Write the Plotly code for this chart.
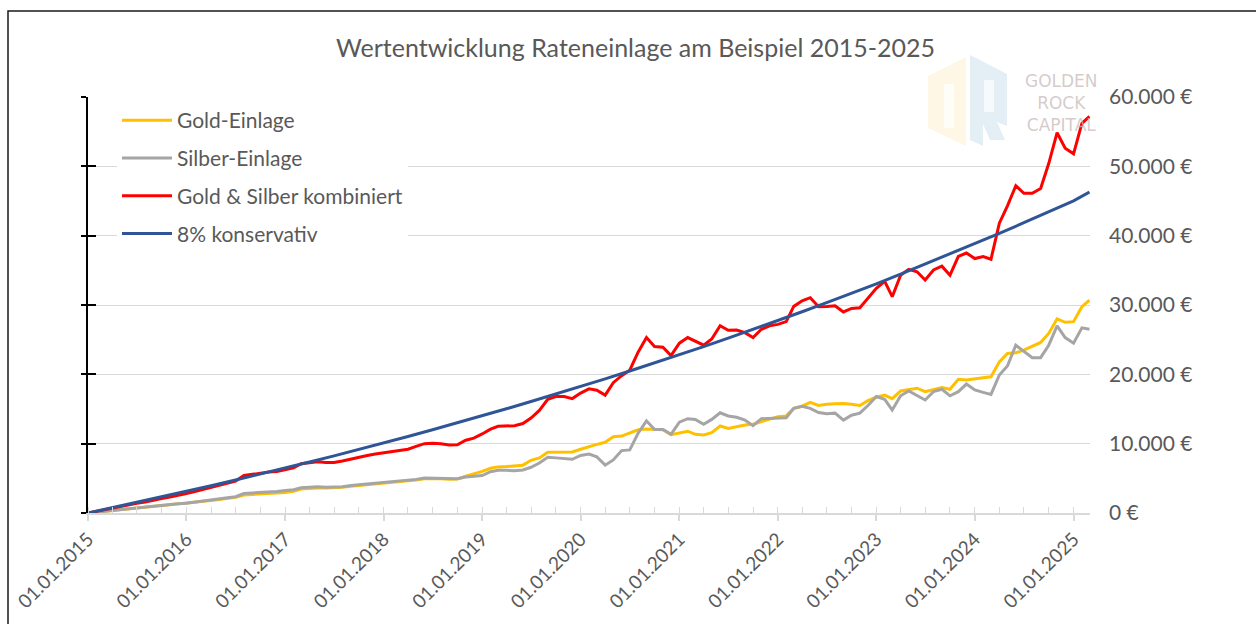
import plotly.graph_objects as go
import pandas as pd

# ---------------- data ----------------
dates = pd.date_range("2015-01-01", periods=123, freq="MS")

gold = [0, 120, 240, 350, 470, 580, 680, 800, 920, 1020,
        1120, 1250, 1380, 1500, 1650, 1800, 1950, 2100, 2250, 2600,
        2700, 2750, 2850, 2900, 2950, 3150, 3450, 3550, 3600, 3600,
        3600, 3700, 3850, 3950, 4100, 4200, 4300, 4350, 4450, 4550,
        4750, 4950, 5000, 4950, 4850, 4900, 5300, 5600, 6000,
        6450, 6650, 6700, 6800, 6900, 7600, 7950, 8750, 8750, 8750,
        8800, 9200, 9600, 9900, 10200, 11000, 11100, 11500, 12000, 12100,
        12000, 12000, 11300, 11600, 11800, 11350, 11250, 11600, 12550, 12200,
        12500, 12700, 12800, 13200, 13600, 13900, 14000, 15100, 15400, 15950,
        15500, 15700, 15750, 15800, 15700, 15500, 16200, 16700, 17000, 16500,
        17600, 17850, 18000, 17500, 17850, 18100, 17850, 19300, 19200, 19400,
        19500, 19650, 21800, 23000, 23100, 23500, 24000, 24600, 25900, 28000,
        27500, 27600, 29750, 30700]

silver = [0, 130, 260, 350, 480, 620, 720, 800, 980, 1080,
          1180, 1350, 1420, 1600, 1750, 1900, 2050, 2200, 2350, 2800,
          2900, 2950, 3050, 3100, 3250, 3350, 3650, 3750, 3800, 3700,
          3700, 3800, 3950, 4050, 4200, 4300, 4400, 4450, 4550, 4650,
          4850, 5050, 5050, 5050, 4950, 4950, 5200, 5250, 5400,
          5950, 6150, 6150, 6100, 6200, 6600, 7200, 8050, 7950, 7900,
          7750, 8300, 8500, 8100, 6900, 7650, 9000, 9100, 11500, 13300,
          12050, 12050, 11350, 13100, 13600, 13500, 12800, 13500, 14450, 14000,
          13800, 13400, 12600, 13600, 13650, 13650, 13750, 15100, 15400, 15100,
          14500, 14300, 14400, 13400, 14100, 14400, 15500, 16800, 16400, 14850,
          16900, 17600, 16900, 16300, 17500, 17850, 16900, 17500, 18600, 17750,
          17400, 17100, 19900, 21200, 24200, 23300, 22400, 22400, 24200, 27000,
          25300, 24500, 26700, 26500]

combined = [0, 250, 500, 700, 950, 1200, 1400, 1600, 1900, 2100,
            2300, 2600, 2800, 3100, 3400, 3700, 4000, 4300, 4600, 5400,
            5600, 5700, 5900, 6000, 6200, 6500, 7100, 7300, 7400, 7300,
            7300, 7500, 7800, 8000, 8300, 8500, 8700, 8800, 9000, 9200,
            9600, 10000, 10050, 10000, 9800, 9850, 10500, 10800, 11400,
            12100, 12500, 12600, 12600, 12900, 13700, 14800, 16400, 16800, 16800,
            16500, 17300, 17900, 17700, 17000, 18800, 19800, 20600, 23200, 25300,
            24000, 23900, 22700, 24500, 25300, 24800, 24200, 25100, 27000, 26350,
            26400, 26000, 25300, 26500, 27000, 27200, 27600, 29800, 30600, 31050,
            29750, 29800, 29900, 29000, 29500, 29600, 31000, 32400, 33400, 31200,
            34300, 35150, 34800, 33600, 35050, 35600, 34300, 37000, 37500, 36700,
            37000, 36600, 41800, 44300, 47200, 46100, 46100, 46800, 50400, 54850,
            52600, 51800, 56200, 57200]

conservative_dates = list(pd.date_range("2015-01-01", "2025-01-01", freq="3MS")) + [pd.Timestamp("2025-03-01")]
conservative = [0, 760, 1520, 2310, 3110, 3920, 4760, 5600, 6470, 7350,
                8240, 9160, 10090, 11040, 12010, 13000, 14010, 15030, 16080, 17150,
                18230, 19340, 20480, 21630, 22800, 24000, 25220, 26470, 27740, 29030,
                30350, 31690, 33060, 34460, 35890, 37340, 38820, 40330, 41870, 43430,
                45030, 46300]

series_names = ["Gold-Einlage", "Silber-Einlage", "Gold & Silber kombiniert", "8% konservativ"]
series_colors = ["#FFC000", "#A5A5A5", "#FF0000", "#2F5597"]
title_text = "Wertentwicklung Rateneinlage am Beispiel 2015-2025"
logo_words = ["GOLDEN", "ROCK", "CAPITAL"]

# ---------------- figure ----------------
FONT = "Lato"
TXT = "#595959"
W, H = 1256, 624
L, R, T, B = 88, 1090, 97, 513   # plot area in pixels


def px(x):
    return (x - L) / (R - L)


def py(y):
    return (B - y) / (B - T)


fig = go.Figure()
xs = [dates, dates, dates, conservative_dates]
ys = [gold, silver, combined, conservative]
for name, x, y, c in zip(series_names, xs, ys, series_colors):
    fig.add_trace(go.Scatter(x=x, y=y, name=name, mode="lines",
                             line=dict(color=c, width=3),
                             legendgroup=name, hoverinfo="x+y+name"))

# helper (empty) traces so the left axis decorations get drawn
fig.add_trace(go.Scatter(x=[], y=[], yaxis="y2", showlegend=False, hoverinfo="skip"))
fig.add_trace(go.Scatter(x=[], y=[], yaxis="y3", showlegend=False, hoverinfo="skip"))

fig.update_layout(
    width=W, height=H, autosize=False,
    margin=dict(l=L, r=W - R, t=T, b=H - B, pad=0),
    paper_bgcolor="white", plot_bgcolor="white",
    separators=",.",
    font=dict(family=FONT, color=TXT),
    title=dict(text=title_text, x=0.506, xref="container", xanchor="center",
               y=1 - 48 / H, yref="container", yanchor="middle",
               font=dict(family=FONT, size=25, color=TXT)),
    showlegend=True,
    legend=dict(x=px(117), y=py(100), xanchor="left", yanchor="top",
                bgcolor="white", borderwidth=0,
                font=dict(family=FONT, size=21, color=TXT),
                tracegroupgap=7.5, itemwidth=50, traceorder="grouped"),
    xaxis=dict(type="date", range=["2015-01-01", "2025-03-03"],
               showline=True, linecolor="#D9D9D9", linewidth=1.5,
               ticks="outside", ticklen=6, tickwidth=1.5, tickcolor="#D9D9D9",
               tick0="2015-01-01", dtick="M12", tickformat="%d.%m.%Y",
               tickangle=-45, tickfont=dict(family=FONT, size=19, color=TXT),
               showgrid=False, zeroline=False,
               minor=dict(dtick="M3", ticks="inside", ticklen=6,
                          tickcolor="#D9D9D9", tickwidth=1.2, showgrid=False)),
    yaxis=dict(range=[0, 60000], side="right", dtick=10000,
               showgrid=True, gridcolor="#D9D9D9", gridwidth=1.3,
               tickformat=",.0f", ticksuffix=" €",
               tickfont=dict(family=FONT, size=21, color=TXT),
               showline=False, zeroline=False, ticks="",
               ticklabelstandoff=18),
    yaxis2=dict(range=[0, 60000], overlaying="y", side="left", anchor="x",
                dtick=10000, showline=True, linecolor="black", linewidth=1.5,
                ticks="outside", ticklen=5, tickwidth=1.5, tickcolor="black",
                showticklabels=False, showgrid=False, zeroline=False),
    yaxis3=dict(range=[0, 60000], overlaying="y", side="left", anchor="x",
                dtick=10000, showline=False,
                ticks="inside", ticklen=8, tickwidth=1.5, tickcolor="black",
                showticklabels=False, showgrid=False, zeroline=False),
)

# outer frame
fig.add_shape(type="rect", xref="paper", yref="paper",
              x0=px(8), x1=px(1300), y0=py(700), y1=py(11),
              line=dict(color="#1a1a1a", width=1.5), fillcolor="rgba(0,0,0,0)",
              layer="above")


# faded logo
def path(pts):
    return "M " + " L ".join(f"{px(a):.5f},{py(b):.5f}" for a, b in pts) + " Z"


fig.add_shape(type="path", xref="paper", yref="paper",
              path=path([(966, 57), (928, 76), (928, 128), (966, 146)]),
              fillcolor="rgba(252,238,200,0.45)", line=dict(width=0), layer="above")
fig.add_shape(type="path", xref="paper", yref="paper",
              path=path([(970, 55), (1007, 74), (1007, 126), (997, 122), (1005, 140),
                         (990, 140), (983, 124), (983, 146), (970, 140)]),
              fillcolor="rgba(196,218,232,0.45)", line=dict(width=0), layer="above")
fig.add_shape(type="path", xref="paper", yref="paper",
              path=path([(944, 84), (954, 84), (954, 128), (944, 128)]),
              fillcolor="rgba(255,255,255,0.7)", line=dict(width=0), layer="above")
fig.add_shape(type="path", xref="paper", yref="paper",
              path=path([(984, 80), (994, 80), (994, 112), (984, 112)]),
              fillcolor="rgba(255,255,255,0.7)", line=dict(width=0), layer="above")
fig.add_annotation(x=px(1061), y=py(103), xref="paper", yref="paper",
                   text="<br>".join(logo_words), showarrow=False,
                   xanchor="center", yanchor="middle", align="center",
                   font=dict(family="DejaVu Sans", size=17, color="rgba(200,186,186,0.75)"))

fig.write_html("out.html", config={"displayModeBar": False},
               post_script="document.body.style.margin='0';document.body.style.overflow='hidden';")
